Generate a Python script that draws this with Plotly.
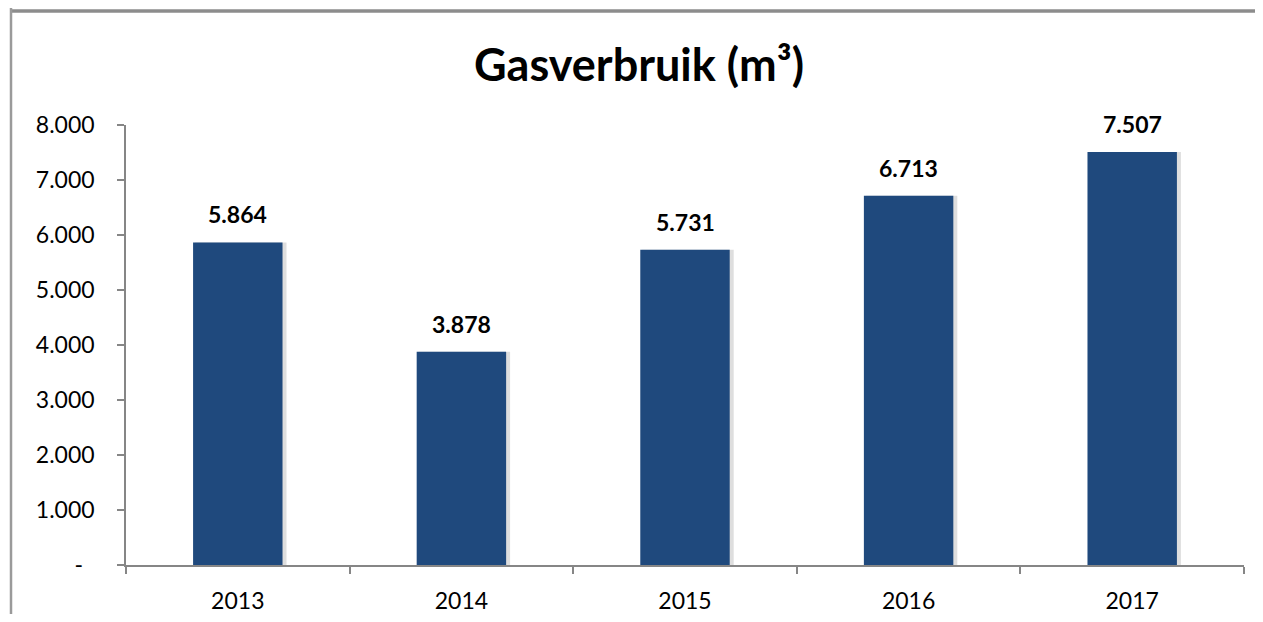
import plotly.graph_objects as go

years = ["2013", "2014", "2015", "2016", "2017"]
values = [5864, 3878, 5731, 6713, 7507]
y_ticks = [0, 1000, 2000, 3000, 4000, 5000, 6000, 7000, 8000]
y_ticklabels = ["-\u2002", "1.000", "2.000", "3.000", "4.000", "5.000", "6.000", "7.000", "8.000"]
title_text = "Gasverbruik (m³)"

# page offset of the default 8px body margin
OFF = 8
W, H = 1263 - 2 * OFF, 622 - 2 * OFF
L, T = 126 - OFF, 125 - OFF
R = W - (1244 - OFF)
B = H - (565 - OFF)
pw, ph = W - L - R, H - T - B

bar_color = "#1F497D"
axis_gray = "#868686"
font = "Lato"
bar_w = 0.4
unit_px = pw / len(years)

fig = go.Figure()
# soft shadow behind the bars
fig.add_trace(go.Bar(
    x=years, y=values, width=bar_w + 2 / unit_px, offset=-bar_w / 2 + 2 / unit_px,
    marker=dict(color="rgba(0,0,0,0.13)", line=dict(width=0)),
    hoverinfo="skip",
))
fig.add_trace(go.Bar(
    x=years, y=values, width=bar_w, offset=-bar_w / 2,
    marker=dict(color=bar_color, line=dict(width=0)),
    hoverinfo="skip",
))

def fmt(v):
    return f"{v:,}".replace(",", ".")

for i, v in enumerate(values):
    fig.add_annotation(x=i, y=v, text=f"<b>{fmt(v)}</b>", showarrow=False,
                       yshift=28, font=dict(family=font, size=23, color="black"))

def px_to_paper_x(px):
    return (px - OFF - L) / pw

def px_to_paper_y(py):
    return (H - B - (py - OFF)) / ph

fig.add_shape(type="line", xref="paper", yref="paper",
              x0=px_to_paper_x(11), x1=px_to_paper_x(1263 + 5),
              y0=px_to_paper_y(11), y1=px_to_paper_y(11),
              line=dict(color="#8c8c8c", width=3.5))
fig.add_shape(type="line", xref="paper", yref="paper",
              x0=px_to_paper_x(11), x1=px_to_paper_x(11),
              y0=px_to_paper_y(-5), y1=px_to_paper_y(622 + 5),
              line=dict(color="#9a9a9a", width=2.5))

fig.update_layout(
    width=W, height=H,
    margin=dict(l=L, r=R, t=T, b=B, autoexpand=False),
    paper_bgcolor="white", plot_bgcolor="white",
    separators=",.",
    showlegend=False,
    barmode="overlay",
    title=dict(text=f"<b>{title_text}</b>", xref="container", yref="container",
               x=(639 - OFF) / W, y=1 - (65 - OFF) / H, xanchor="center", yanchor="middle",
               font=dict(family=font, size=45, color="black")),
    font=dict(family=font, size=23, color="black"),
    xaxis=dict(
        type="category", range=[-0.5, len(years) - 0.5], automargin=False,
        showgrid=False, showline=True, linecolor=axis_gray, linewidth=1.5,
        ticks="outside", tickson="boundaries", ticklen=7, tickcolor=axis_gray, tickwidth=1.5,
        tickangle=0,
        tickfont=dict(family=font, size=23, color="black"),
        ticklabelstandoff=15,
    ),
    yaxis=dict(
        range=[0, 8000], automargin=False, showgrid=False, showline=True,
        linecolor=axis_gray, linewidth=1.5,
        tickvals=y_ticks, ticktext=y_ticklabels,
        ticks="outside", ticklen=7, tickcolor=axis_gray, tickwidth=1.5,
        tickfont=dict(family=font, size=23, color="black"),
        ticklabelstandoff=18, zeroline=False,
    ),
)

fig.write_html("out.html")
